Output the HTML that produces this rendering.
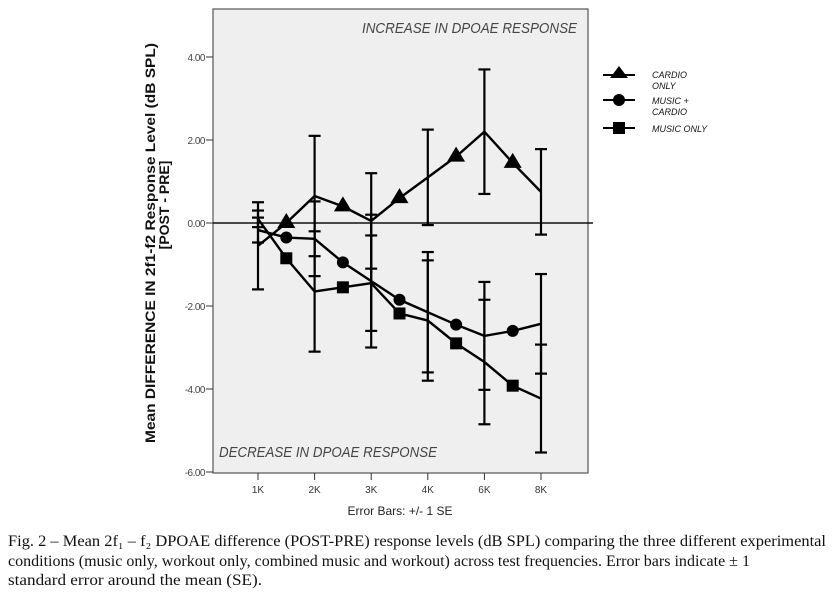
<!DOCTYPE html>
<html><head><meta charset="utf-8"><style>
html,body{margin:0;padding:0;background:#fff;width:835px;height:594px;overflow:hidden}
svg{display:block}
</style></head><body>
<svg id="chart" width="835" height="594" xmlns="http://www.w3.org/2000/svg">
<rect x="213" y="9" width="375" height="464" fill="#efefef" stroke="#555" stroke-width="1.2"/>
<g id="axes"></g>
<g id="series"></g>
<text x="362" y="33" textLength="215" lengthAdjust="spacingAndGlyphs" font-family="Liberation Sans, sans-serif" font-style="italic" font-size="15" fill="#444">INCREASE IN DPOAE RESPONSE</text>
<text x="219" y="457" textLength="218" lengthAdjust="spacingAndGlyphs" font-family="Liberation Sans, sans-serif" font-style="italic" font-size="15" fill="#444">DECREASE IN DPOAE RESPONSE</text>
<g font-family="Liberation Sans, sans-serif" font-weight="bold" font-size="14" fill="#111" text-anchor="middle">
<text transform="translate(155,243) rotate(-90)" textLength="400" lengthAdjust="spacingAndGlyphs">Mean DIFFERENCE IN 2f1-f2 Response Level (dB SPL)</text>
<text transform="translate(169,205) rotate(-90)">[POST - PRE]</text>
</g>
<text x="400" y="515" text-anchor="middle" font-family="Liberation Sans, sans-serif" font-size="12" fill="#222">Error Bars: +/- 1 SE</text>
<g font-family="Liberation Sans, sans-serif" font-style="italic" font-size="9" fill="#111">
<g><line x1="603" y1="75" x2="635" y2="75" stroke="#000" stroke-width="2"/><polygon points="619,66 628,78 610,78" fill="#000"/><text x="652" y="78">CARDIO</text><text x="652" y="89">ONLY</text></g>
<g><line x1="603" y1="100" x2="635" y2="100" stroke="#000" stroke-width="2"/><circle cx="619" cy="100" r="6" fill="#000"/><text x="652" y="104">MUSIC +</text><text x="652" y="115">CARDIO</text></g>
<g><line x1="603" y1="128" x2="635" y2="128" stroke="#000" stroke-width="2"/><rect x="613" y="122" width="12" height="12" fill="#000"/><text x="652" y="132">MUSIC ONLY</text></g>
</g>
<g font-family="Liberation Serif, serif" font-size="15.5" fill="#111">
<text x="8" y="546" textLength="818" lengthAdjust="spacingAndGlyphs">Fig. 2 – Mean 2f₁ – f₂ DPOAE difference (POST-PRE) response levels (dB SPL) comparing the three different experimental</text>
<text x="8" y="566" textLength="742" lengthAdjust="spacingAndGlyphs">conditions (music only, workout only, combined music and workout) across test frequencies. Error bars indicate ± 1</text>
<text x="8" y="585" textLength="254" lengthAdjust="spacingAndGlyphs">standard error around the mean (SE).</text>
</g>
</svg>
<script>
const xCategories = ["1K","2K","3K","4K","6K","8K"];
const yTicks = [4, 2, 0, -2, -4, -6];
const yTickLabels = ["4.00","2.00","0.00","-2.00","-4.00","-6.00"];
// means at positions 0,0.5,1,...,5 (markers at half positions)
const cardioMeans = [-0.55, 0.0, 0.65, 0.4, 0.05, 0.6, 1.1, 1.6, 2.2, 1.45, 0.75];
const cardioSE = [1.05, 1.45, 1.15, 1.15, 1.5, 1.03];
const musicCardioMeans = [-0.17, -0.35, -0.38, -0.95, -1.4, -1.85, -2.15, -2.45, -2.72, -2.6, -2.43];
const musicCardioSE = [0.3, 0.9, 1.6, 1.45, 1.3, 1.2];
const musicOnlyMeans = [0.1, -0.85, -1.65, -1.55, -1.45, -2.18, -2.35, -2.9, -3.35, -3.92, -4.23];
const musicOnlySE = [0.2, 1.45, 1.15, 1.45, 1.5, 1.3];

const NS = "http://www.w3.org/2000/svg";
const xScale = i => 258 + i * 56.6;
const yScale = v => 223 - v * 41.5;
function mk(tag, attrs, parent){const e=document.createElementNS(NS,tag);for(const k in attrs)e.setAttribute(k,attrs[k]);parent.appendChild(e);return e;}
const axes = document.getElementById('axes');
const ser = document.getElementById('series');

yTicks.forEach((t,i)=>{
  const y=yScale(t);
  const tk=mk('line',{x1:206,y1:y,x2:213,y2:y,stroke:'#333','stroke-width':1},axes);
  
  
  const lb=mk('text',{x:205,y:y+4,'text-anchor':'end','font-family':'Liberation Sans, sans-serif','font-size':10,fill:'#444','letter-spacing':'-0.5'},axes);
  lb.textContent=yTickLabels[i];
  
  
});
xCategories.forEach((c,i)=>{
  const x=xScale(i);
  const tk=mk('line',{x1:x,y1:473,x2:x,y2:480,stroke:'#333','stroke-width':1},axes);
  
  
  const lb=mk('text',{x:x,y:493,'text-anchor':'middle','font-family':'Liberation Sans, sans-serif','font-size':10,fill:'#333'},axes);
  lb.textContent=c;
  
  
});
const zl=mk('line',{x1:213,y1:yScale(0),x2:593,y2:yScale(0),stroke:'#111','stroke-width':1.5},axes);



function drawSeries(name, means, se, marker){
  const g=mk('g',{},ser);
  
  
  const pts=means.map((v,i)=>xScale(i/2)+','+yScale(v)).join(' ');
  const pl=mk('polyline',{points:pts,fill:'none',stroke:'#000','stroke-width':2.4},g);
  
  
  se.forEach((s,i)=>{
    const m=means[i*2], x=xScale(i), y1=yScale(m+s), y2=yScale(m-s);
    const eg=mk('g',{stroke:'#000','stroke-width':2.2},g);
    
    
    mk('line',{x1:x,y1:y1,x2:x,y2:y2},eg);
    mk('line',{x1:x-6,y1:y1,x2:x+6,y2:y1},eg);
    mk('line',{x1:x-6,y1:y2,x2:x+6,y2:y2},eg);
  });
  means.forEach((v,i)=>{
    if(i%2===0) return;
    const x=xScale(i/2), y=yScale(v);
    let e;
    if(marker==='tri') e=mk('polygon',{points:`${x},${y-10} ${x+9},${y+5} ${x-9},${y+5}`,fill:'#000'},g);
    else if(marker==='circ') e=mk('circle',{cx:x,cy:y,r:6,fill:'#000'},g);
    else e=mk('rect',{x:x-6,y:y-6,width:12,height:12,fill:'#000'},g);
    
    
  });
}
drawSeries('cardio-only', cardioMeans, cardioSE, 'tri');
drawSeries('music-cardio', musicCardioMeans, musicCardioSE, 'circ');
drawSeries('music-only', musicOnlyMeans, musicOnlySE, 'sq');
</script>
</body></html>
